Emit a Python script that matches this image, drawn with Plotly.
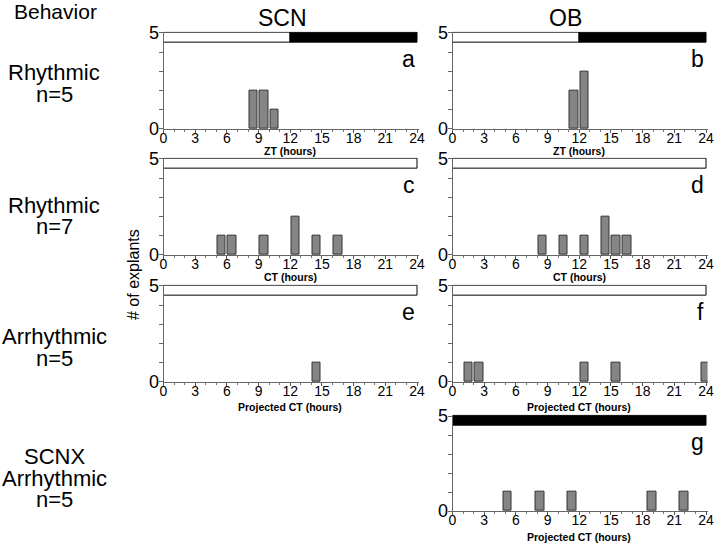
import plotly.graph_objects as go

# number of explants per hour bin
hours_a = [8.5, 9.5, 10.5]
counts_a = [2, 2, 1]
hours_b = [11.5, 12.5]
counts_b = [2, 3]
hours_c = [5.5, 6.5, 9.5, 12.5, 14.5, 16.5]
counts_c = [1, 1, 1, 2, 1, 1]
hours_d = [8.5, 10.5, 12.5, 14.5, 15.5, 16.5]
counts_d = [1, 1, 1, 2, 1, 1]
hours_e = [14.5]
counts_e = [1]
hours_f = [1.5, 2.5, 12.5, 15.5, 24]
counts_f = [1, 1, 1, 1, 1]
hours_g = [5.2, 8.3, 11.3, 18.9, 21.9]
counts_g = [1, 1, 1, 1, 1]

# light / dark bars on top of each panel: (start, end, phase)
ld_12_12 = [(0, 12, "light"), (12, 24, "dark")]
ld_light = [(0, 24, "light")]
ld_dark = [(0, 24, "dark")]

x_ticks = [0, 3, 6, 9, 12, 15, 18, 21, 24]
y_ticks = [0, 1, 2, 3, 4, 5]
y_ticktext = ["0", "", "", "", "", "5"]

columns = ["SCN", "OB"]
row_labels = [["Rhythmic", "n=5"], ["Rhythmic", "n=7"], ["Arrhythmic", "n=5"],
              ["SCNX", "Arrhythmic", "n=5"]]

# letter, column, row, hours, counts, x title, light/dark
panels = [
    ("a", 0, 0, hours_a, counts_a, "ZT (hours)", ld_12_12),
    ("b", 1, 0, hours_b, counts_b, "ZT (hours)", ld_12_12),
    ("c", 0, 1, hours_c, counts_c, "CT (hours)", ld_light),
    ("d", 1, 1, hours_d, counts_d, "CT (hours)", ld_light),
    ("e", 0, 2, hours_e, counts_e, "Projected CT (hours)", ld_light),
    ("f", 1, 2, hours_f, counts_f, "Projected CT (hours)", ld_light),
    ("g", 1, 3, hours_g, counts_g, "Projected CT (hours)", ld_dark),
]

W, H = 720, 544
FONT = "Liberation Sans, Arial, sans-serif"
X_MAX = 24.15
Y_MAX = 5.07   # a little headroom so the top edge of the light/dark bar shows

# pixel layout of the panels
col_x = [(163.5, 417), (452.5, 706)]          # x of 0 h and 24 h
row_y = [(129, 33), (255, 159), (382, 286), (511, 416)]  # y of 0 and 5
title_gap = [22, 22, 25, 26]                   # x title below the axis line

fig = go.Figure()
layout = {}
annotations = []


def note(text, px, py, size, **kw):
    return dict(text=text, x=px / W, y=1 - py / H, xref="paper", yref="paper",
                xanchor="center", yanchor="middle", showarrow=False,
                font=dict(size=size, color="black"), **kw)


for i, (letter, col, row, hours, counts, xtitle, ld) in enumerate(panels):
    n = "" if i == 0 else str(i + 1)
    xa, ya = "x" + n, "y" + n
    x0, x24 = col_x[col]
    xend = x0 + (x24 - x0) * X_MAX / 24
    yb, y5 = row_y[row]
    ytop = yb - (yb - y5) * Y_MAX / 5

    for s, e, phase in ld:
        fig.add_trace(go.Bar(
            x=[e - s], y=[4.75], base=[s], width=0.5, orientation="h",
            marker=dict(color="white" if phase == "light" else "black",
                        line=dict(color="black", width=1)),
            xaxis=xa, yaxis=ya, showlegend=False, hoverinfo="skip"))

    fig.add_trace(go.Bar(
        x=hours, y=counts, width=0.8,
        marker=dict(color="#858585", line=dict(color="#333333", width=1)),
        xaxis=xa, yaxis=ya, showlegend=False))

    layout["xaxis" + n] = dict(
        domain=[x0 / W, xend / W], range=[0, X_MAX], anchor=ya,
        automargin=False,
        tickvals=x_ticks, ticks="outside", ticklen=3, tickcolor="#555",
        ticklabelstandoff=-7,
        minor=dict(dtick=1, ticks="outside", ticklen=2, tickcolor="#777"),
        showline=True, linecolor="#666", linewidth=1,
        showgrid=False, zeroline=False,
        tickfont=dict(size=14, color="black"))
    layout["yaxis" + n] = dict(
        domain=[1 - yb / H, 1 - ytop / H], range=[0, Y_MAX], anchor=xa,
        automargin=False,
        tickvals=y_ticks, ticktext=y_ticktext, ticks="outside", ticklen=4,
        ticklabelstandoff=-4,
        tickcolor="#666", showline=True, linecolor="#666", linewidth=1,
        showgrid=False, zeroline=False,
        tickfont=dict(size=18, color="black"))

    annotations.append(dict(
        text=letter, x=24, y=3.65, xref=xa, yref=ya, xanchor="right",
        yanchor="middle", showarrow=False, font=dict(size=23, color="black")))
    annotations.append(note("<b>" + xtitle + "</b>", (x0 + x24) / 2,
                            yb + title_gap[row], 10.5))

# column and row headings
annotations.append(note("Behavior", 55, 11, 21))
for name, cx in zip(columns, [282, 565]):
    annotations.append(note(name, cx, 18, 23))

row_text_y = [[73, 94], [205, 227], [336, 358], [456, 478, 499]]
for lines, ys in zip(row_labels, row_text_y):
    for t, yy in zip(lines, ys):
        annotations.append(note(t, 54, yy, 22))

annotations.append(note("# of explants", 133, 275, 16, textangle=-90))

fig.update_layout(
    width=W, height=H, autosize=False,
    margin=dict(l=0, r=0, t=0, b=0, autoexpand=False),
    paper_bgcolor="white", plot_bgcolor="white",
    font=dict(family=FONT, color="black"),
    barmode="overlay", bargap=0,
    annotations=annotations,
    **layout)

# the page's default body margin would shift the 720x544 figure
fig.write_html("out.html", config={"displayModeBar": False},
               post_script="document.body.style.margin='0';"
                           "document.body.style.overflow='hidden';")
